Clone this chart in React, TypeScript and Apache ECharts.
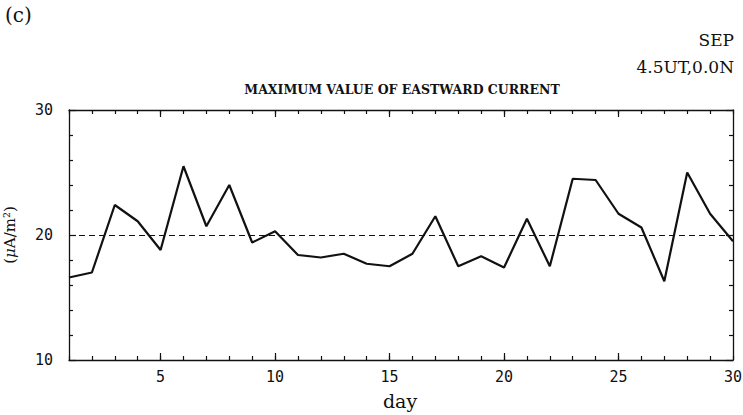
import React, { useEffect, useRef } from "react";
import * as echarts from "echarts";

// Daily maximum eastward current, September (4.5UT, 0.0N)
const days: number[] = [
  1, 2, 3, 4, 5, 6, 7, 8, 9, 10, 11, 12, 13, 14, 15,
  16, 17, 18, 19, 20, 21, 22, 23, 24, 25, 26, 27, 28, 29, 30,
];
const currentValues: number[] = [
  16.6, 17.0, 22.4, 21.1, 18.8, 25.5, 20.7, 24.0, 19.4, 20.3, 18.4, 18.2, 18.5, 17.7, 17.5,
  18.5, 21.5, 17.5, 18.3, 17.4, 21.3, 17.5, 24.5, 24.4, 21.7, 20.6, 16.3, 25.0, 21.7, 19.5,
];
const referenceLevel = 20;
const majorDayTicks: number[] = [5, 10, 15, 20, 25];
const labeledDays: number[] = [5, 10, 15, 20, 25, 30];

const MONO = "'DejaVu Sans Mono', monospace";
const SERIF = "'DejaVu Serif', 'Liberation Serif', serif";
const INK = "#111111";

export default function App() {
  const ref = useRef<HTMLDivElement>(null);

  useEffect(() => {
    if (!ref.current) return;
    const chart = echarts.init(ref.current, undefined, { renderer: "svg" });

    const baseX = {
      type: "value" as const,
      min: 1,
      max: 30,
      interval: 1,
      splitLine: { show: false },
    };
    const line = { show: true, lineStyle: { color: INK, width: 1.3 } };

    chart.setOption({
      animation: false,
      backgroundColor: "#ffffff",
      grid: {
        left: 69,
        right: 10,
        top: 110,
        bottom: 55,
        containLabel: false,
        outerBoundsMode: "none",
      },
      xAxis: [
        {
          ...baseX,
          position: "bottom",
          axisLine: line,
          axisTick: { show: true, inside: true, length: 4, lineStyle: { color: INK, width: 1.2 } },
          axisLabel: {
            show: true,
            customValues: labeledDays,
            margin: 9,
            fontFamily: MONO,
            fontSize: 15,
            fontWeight: 500,
            color: INK,
          },
        },
        {
          ...baseX,
          position: "bottom",
          axisLine: { show: false },
          axisTick: {
            show: true,
            inside: true,
            length: 7,
            customValues: majorDayTicks,
            lineStyle: { color: INK, width: 1.2 },
          },
          axisLabel: { show: false },
        },
        {
          ...baseX,
          position: "top",
          axisLine: line,
          axisTick: { show: true, inside: true, length: 4, lineStyle: { color: INK, width: 1.2 } },
          axisLabel: { show: false },
        },
        {
          ...baseX,
          position: "top",
          axisLine: { show: false },
          axisTick: {
            show: true,
            inside: true,
            length: 7,
            customValues: majorDayTicks,
            lineStyle: { color: INK, width: 1.2 },
          },
          axisLabel: { show: false },
        },
      ],
      yAxis: [
        {
          type: "value",
          position: "left",
          min: 10,
          max: 30,
          interval: 10,
          splitLine: { show: false },
          axisLine: line,
          axisTick: { show: true, inside: true, length: 7, lineStyle: { color: INK, width: 1.2 } },
          minorTick: { show: true, splitNumber: 5, length: 4, lineStyle: { color: INK, width: 1.2 } },
          axisLabel: { margin: 16, fontFamily: MONO, fontSize: 15, fontWeight: 500, color: INK },
          name: "{p|(}{i|μ}{p|A/m²)}",
          nameLocation: "middle",
          nameRotate: 90,
          nameGap: 52,
          nameTextStyle: {
            rich: {
              p: { fontFamily: SERIF, fontSize: 15, color: INK },
              i: { fontFamily: SERIF, fontSize: 15, fontStyle: "italic", color: INK },
            },
          },
        },
        {
          type: "value",
          position: "right",
          min: 10,
          max: 30,
          interval: 10,
          splitLine: { show: false },
          axisLine: line,
          axisTick: { show: true, inside: true, length: 7, lineStyle: { color: INK, width: 1.2 } },
          minorTick: { show: true, splitNumber: 5, length: 4, lineStyle: { color: INK, width: 1.2 } },
          axisLabel: { show: false },
        },
      ],
      series: [
        {
          type: "line",
          xAxisIndex: 0,
          yAxisIndex: 0,
          data: days.map((d, i) => [d, currentValues[i]]),
          showSymbol: false,
          symbol: "none",
          lineStyle: { color: INK, width: 2.2 },
          markLine: {
            silent: true,
            symbol: "none",
            label: { show: false },
            lineStyle: { color: INK, width: 1, type: [6, 4] },
            data: [{ yAxis: referenceLevel }],
          },
        },
      ],
      graphic: [
        {
          type: "text",
          left: 5,
          top: 5,
          style: { text: "(c)", font: `20px ${SERIF}`, fill: INK },
        },
        {
          type: "text",
          right: 9,
          top: 31,
          style: { text: "SEP", font: `17px ${SERIF}`, fill: INK },
        },
        {
          type: "text",
          right: 9,
          top: 58,
          style: { text: "4.5UT,0.0N", font: `17px ${SERIF}`, fill: INK },
        },
        {
          type: "text",
          x: 402,
          y: 89,
          style: {
            text: "MAXIMUM VALUE OF EASTWARD CURRENT",
            font: `bold 12.5px ${SERIF}`,
            fill: INK,
            align: "center",
            verticalAlign: "middle",
          },
        },
        {
          type: "text",
          x: 400,
          y: 401,
          style: {
            text: "day",
            font: `19px ${SERIF}`,
            fill: INK,
            align: "center",
            verticalAlign: "middle",
          },
        },
      ],
    });

    return () => chart.dispose();
  }, []);

  return (
    <div
      ref={ref}
      style={{ position: "fixed", left: 0, top: 0, width: 743, height: 415, background: "#fff" }}
    />
  );
}
